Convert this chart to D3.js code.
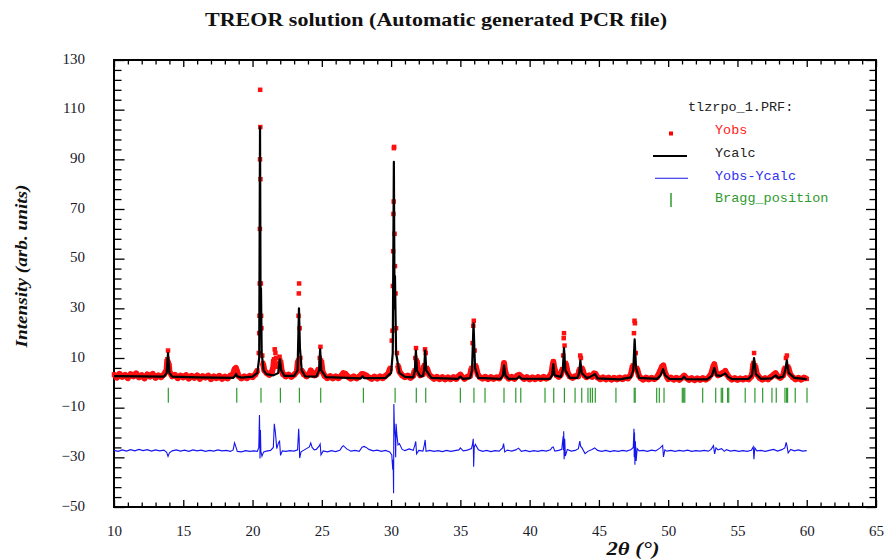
<!DOCTYPE html>
<html>
<head>
<meta charset="utf-8">
<script src="https://cdn.jsdelivr.net/npm/d3@7"></script>
<style>
  body { margin: 0; background: #fff; }
  svg { display: block; }
</style>
</head>
<body>
<svg id="chart" width="884" height="559"></svg>
<script>
// observed profile, [2theta, intensity]
const yobs = [
  [10.0,3.4],[10.2,2.1],[10.4,3.6],[10.6,2.4],[10.8,3.2],[11.0,1.9],[11.2,3.5],[11.4,2.6],[11.6,3.8],[11.8,2.2],
  [12.0,3.1],[12.2,1.8],[12.4,3.4],[12.6,2.5],[12.8,3.6],[13.0,2.0],[13.2,3.0],[13.4,2.3],[13.6,3.3],[13.8,5.2],
  [13.85,9.5],[13.9,13.0],[13.95,8.0],[14.0,4.6],[14.2,2.6],[14.4,3.2],[14.6,1.9],[14.8,2.9],[15.0,2.2],[15.2,3.1],
  [15.4,1.7],[15.6,2.8],[15.8,2.0],[16.0,3.0],[16.2,1.6],[16.4,2.7],[16.6,2.1],[16.8,2.9],[17.0,1.5],[17.2,2.6],
  [17.4,1.9],[17.6,2.8],[17.8,1.6],[18.0,2.5],[18.2,1.8],[18.4,2.9],[18.6,3.5],[18.7,5.5],[18.8,6.0],[18.9,4.4],
  [19.0,2.7],[19.2,1.8],[19.4,2.6],[19.6,1.9],[19.8,2.8],[20.0,2.3],[20.2,3.4],[20.35,5.0],[20.45,12],[20.48,20],
  [20.5,27],[20.52,40],[20.53,62],[20.54,90],[20.55,118],[20.56,103],[20.57,82],[20.6,40],[20.62,27],[20.64,22],
  [20.7,11],[20.75,8],[20.85,5],[21.0,4.0],[21.2,3.2],[21.4,4.4],[21.5,6.5],[21.55,9.5],[21.6,13.5],[21.65,12],
  [21.7,10],[21.8,6.5],[21.9,8.0],[21.95,10.5],[22.0,9.0],[22.1,5],[22.2,3.5],[22.4,2.6],[22.6,3.3],[22.8,2.4],
  [23.0,3.2],[23.2,4.5],[23.28,9],[23.32,27],[23.34,36],[23.36,40],[23.4,22],[23.45,10],[23.55,5],[23.7,3.4],
  [23.9,2.6],[24.1,3.8],[24.2,5.0],[24.3,4.2],[24.45,3.0],[24.6,3.3],[24.75,5.5],[24.85,10],[24.9,14.5],[24.95,9],
  [25.05,4.5],[25.2,2.8],[25.4,1.9],[25.6,2.7],[25.8,1.8],[26.0,2.6],[26.2,1.9],[26.4,2.8],[26.55,3.9],[26.7,3.6],
  [26.9,2.4],[27.1,1.7],[27.3,2.6],[27.5,1.8],[27.7,2.5],[27.9,3.6],[28.05,3.4],[28.2,3.0],[28.4,2.2],[28.6,1.6],
  [28.8,2.5],[29.0,1.7],[29.2,2.6],[29.4,1.9],[29.6,2.8],[29.8,3.8],[29.95,6],[30.05,17],[30.1,21],[30.13,39],
  [30.15,53],[30.17,68],[30.19,73],[30.2,94.5],[30.22,95],[30.25,60],[30.28,47],[30.32,36],[30.36,22],[30.42,12],
  [30.5,7],[30.6,4.5],[30.8,3.0],[31.0,2.3],[31.2,2.9],[31.4,2.0],[31.6,2.9],[31.7,5],[31.75,10],[31.8,14],
  [31.85,9],[31.95,4.5],[32.1,3.0],[32.3,3.5],[32.38,7],[32.45,13.5],[32.5,12],[32.58,6],[32.75,3.2],[32.9,2.5],
  [33.1,1.6],[33.3,2.4],[33.5,1.5],[33.7,2.3],[33.9,1.4],[34.1,2.2],[34.3,1.5],[34.5,2.3],[34.7,1.6],[34.9,2.8],
  [35.0,3.3],[35.1,2.6],[35.3,1.6],[35.5,2.4],[35.7,2.8],[35.8,6],[35.88,16],[35.93,23],[35.97,25],[36.03,13],
  [36.1,7],[36.25,3.4],[36.4,2.3],[36.6,1.7],[36.8,2.4],[37.0,1.5],[37.2,2.3],[37.4,1.6],[37.6,2.2],[37.8,1.8],
  [38.0,3.3],[38.1,6],[38.15,8],[38.22,5],[38.35,2.6],[38.5,1.7],[38.7,2.4],[38.9,1.6],[39.1,2.9],[39.25,3.2],
  [39.4,2.5],[39.6,1.6],[39.8,2.3],[40.0,1.4],[40.2,2.2],[40.4,1.5],[40.6,2.3],[40.8,1.6],[41.0,2.4],[41.2,1.7],
  [41.4,2.3],[41.58,4.0],[41.66,7],[41.71,8.5],[41.78,6],[41.95,3.0],[42.1,2.4],[42.25,3.2],[42.35,5.5],[42.42,11],
  [42.46,18],[42.48,20],[42.52,15],[42.6,8],[42.75,4],[42.9,2.6],[43.1,2.0],[43.3,2.7],[43.5,2.6],[43.6,5.5],
  [43.65,11],[43.7,10],[43.78,6],[43.95,3.0],[44.1,2.3],[44.3,3.0],[44.5,2.4],[44.65,3.8],[44.75,3.6],[44.9,2.2],
  [45.1,1.5],[45.3,2.2],[45.5,1.4],[45.7,2.1],[45.9,1.3],[46.1,2.0],[46.3,1.4],[46.5,2.1],[46.7,1.5],[46.9,2.2],
  [47.1,1.8],[47.3,3.2],[47.45,7],[47.53,20],[47.57,25],[47.6,24],[47.66,12],[47.74,6],[47.88,3.0],[48.0,2.0],
  [48.2,1.3],[48.4,2.1],[48.6,1.4],[48.8,2.0],[49.0,1.5],[49.2,2.3],[49.4,4.5],[49.55,6.5],[49.65,7],[49.75,4.5],
  [49.9,2.5],[50.0,1.5],[50.2,2.1],[50.4,1.3],[50.6,2.0],[50.8,1.2],[51.0,2.1],[51.15,2.9],[51.3,2.0],[51.5,1.2],
  [51.7,1.9],[51.9,1.1],[52.1,1.8],[52.3,1.2],[52.5,1.9],[52.7,1.3],[52.9,2.0],[53.1,3.5],[53.25,6.5],[53.33,7.5],
  [53.45,4.0],[53.6,3.0],[53.8,3.6],[54.0,4.2],[54.12,4.8],[54.25,3.3],[54.4,2.2],[54.6,1.3],[54.8,1.9],[55.0,1.2],
  [55.2,1.8],[55.4,1.3],[55.6,1.9],[55.8,1.4],[56.0,2.6],[56.08,4.5],[56.15,8],[56.2,12],[56.28,7],[56.4,3.5],
  [56.6,2.0],[56.8,1.3],[57.0,1.9],[57.2,1.4],[57.4,2.3],[57.6,3.2],[57.75,3.9],[57.9,2.6],[58.1,2.0],[58.3,3.0],
  [58.42,6],[58.5,10],[58.57,11],[58.66,6.5],[58.8,3.5],[59.0,2.2],[59.2,1.4],[59.4,2.0],[59.6,1.3],[59.8,2.1],
  [60.0,1.6]
];

// calculated profile
const ycalc = [
  [10.0,2.7],[12.0,2.6],[13.6,2.5],[13.8,4.0],[13.9,12.0],[14.0,4.0],[14.2,2.5],[16.0,2.2],[18.6,2.0],[18.72,2.6],
  [18.81,3.6],[18.9,2.6],[19.2,2.1],[20.0,2.5],[20.35,4.0],[20.48,10],[20.54,103],[20.58,30],[20.61,38],[20.66,12],
  [20.8,5],[21.0,3.5],[21.5,3.0],[21.85,4.0],[21.97,9.5],[22.07,5],[22.3,2.8],[23.0,2.8],[23.25,5],[23.35,30],
  [23.42,14],[23.55,5],[23.8,2.6],[24.6,2.5],[24.8,5],[24.88,13.5],[24.96,5],[25.3,2.3],[27.8,1.8],[27.95,2.6],
  [28.05,1.9],[29.6,2.0],[30.0,4],[30.12,12],[30.2,89],[30.25,30],[30.28,43],[30.36,12],[30.6,4],[31.0,2.4],
  [31.6,2.2],[31.72,5],[31.79,13],[31.87,5],[32.1,2.6],[32.3,2.8],[32.38,5],[32.46,13],[32.54,5],[32.9,2.0],
  [34.8,1.6],[35.0,2.5],[35.2,1.6],[35.7,1.9],[35.84,5],[35.95,24],[36.06,6],[36.3,2.0],[37.9,1.6],[38.07,3],
  [38.15,7],[38.25,3],[38.5,1.6],[39.1,1.7],[39.25,2.6],[39.4,1.7],[41.45,1.6],[41.62,3],[41.71,7.5],[41.8,3],
  [42.25,2.4],[42.39,5],[42.48,14],[42.58,5],[42.9,2.0],[43.45,2.0],[43.58,4],[43.66,9],[43.76,4],[44.1,2.0],
  [44.3,2.2],[44.72,3.5],[44.9,1.8],[46.5,1.4],[47.3,2.2],[47.48,5],[47.58,17.5],[47.68,6],[47.9,2.0],[49.2,1.6],
  [49.45,3],[49.63,5.5],[49.78,3],[50.1,1.6],[51.0,1.5],[51.14,2.5],[51.3,1.5],[52.8,1.4],[53.15,2.8],[53.33,6],
  [53.48,3],[53.8,2.8],[54.12,3.8],[54.3,2.5],[54.6,1.5],[55.8,1.6],[56.05,3],[56.2,10],[56.33,3.5],[56.7,1.6],
  [57.45,1.8],[57.76,3],[57.95,2],[58.3,2.5],[58.45,5],[58.56,9],[58.7,4],[59.1,2],[60.0,1.5]
];

// difference curve (shifted)
const ydiff = [
  [10.0,-27.2],[10.3,-27.6],[10.6,-27.0],[10.9,-27.5],[11.2,-26.9],[11.5,-27.4],[11.8,-26.8],[12.1,-27.3],[12.4,-26.9],[12.7,-27.5],
  [13.0,-27.0],[13.3,-27.4],[13.6,-27.1],[13.8,-28.0],[13.9,-29.6],[14.0,-28.2],[14.2,-27.4],[14.5,-27.0],[14.8,-27.5],[15.1,-27.1],
  [15.4,-27.6],[15.7,-27.0],[16.0,-27.4],[16.3,-27.1],[16.6,-27.6],[16.9,-27.2],[17.2,-27.5],[17.5,-27.0],[17.8,-27.4],[18.1,-27.2],
  [18.4,-27.6],[18.6,-27.0],[18.7,-24.2],[18.8,-25.8],[18.9,-27.6],[19.2,-27.8],[19.5,-27.3],[19.8,-27.6],[20.1,-27.4],[20.35,-27.6],
  [20.45,-26.0],[20.5,-13.0],[20.52,-20],[20.54,-30.5],[20.57,-19],[20.6,-27.5],[20.68,-29.5],[20.8,-27.8],[21.0,-27.5],[21.3,-27.2],
  [21.5,-26.0],[21.57,-16.5],[21.65,-20],[21.75,-26.5],[21.88,-24],[21.95,-23.5],[22.02,-29.2],[22.15,-27.4],[22.4,-27.6],[22.7,-27.3],
  [23.0,-27.5],[23.25,-27.0],[23.33,-18.5],[23.36,-22],[23.4,-30.3],[23.5,-27.8],[23.8,-26.8],[24.1,-25.8],[24.2,-24.2],[24.3,-26.0],
  [24.45,-27.0],[24.6,-26.8],[24.8,-25.5],[24.88,-24.6],[24.94,-29.0],[25.1,-27.4],[25.4,-27.8],[25.7,-27.3],[26.0,-27.7],[26.3,-27.2],
  [26.45,-25.9],[26.55,-25.3],[26.8,-26.6],[27.1,-27.5],[27.4,-27.2],[27.7,-27.6],[27.9,-25.9],[28.05,-25.6],[28.2,-26.0],[28.4,-26.8],
  [28.7,-27.4],[29.0,-27.1],[29.3,-27.6],[29.6,-27.2],[29.9,-27.8],[30.05,-29.0],[30.12,-35],[30.15,-31],[30.18,-44.5],[30.2,-8.5],
  [30.23,-16],[30.26,-19],[30.3,-22],[30.33,-30],[30.36,-16.5],[30.42,-21],[30.5,-25],[30.6,-24.5],[30.8,-26.8],[31.0,-27.3],
  [31.3,-26.6],[31.6,-27.2],[31.72,-25.0],[31.78,-23.6],[31.84,-28.6],[32.0,-27.2],[32.3,-27.5],[32.4,-25],[32.46,-23],[32.52,-27.6],
  [32.8,-27.2],[33.1,-27.6],[33.4,-27.3],[33.7,-27.7],[34.0,-27.2],[34.3,-27.6],[34.6,-27.3],[34.9,-27.0],[35.0,-26.2],[35.2,-27.4],
  [35.5,-27.1],[35.8,-26.5],[35.88,-24.6],[35.93,-22.5],[35.96,-33.8],[36.0,-26],[36.08,-24.8],[36.3,-27.0],[36.6,-27.6],[36.9,-27.2],
  [37.2,-27.7],[37.5,-27.3],[37.8,-27.5],[38.05,-26.2],[38.12,-24.5],[38.2,-27.8],[38.4,-27.1],[38.7,-27.5],[39.0,-27.0],[39.2,-26.3],
  [39.4,-27.6],[39.7,-27.2],[40.0,-27.7],[40.3,-27.3],[40.6,-27.6],[40.9,-27.2],[41.2,-27.5],[41.5,-27.0],[41.62,-26.0],[41.7,-25.8],
  [41.82,-27.5],[42.1,-27.2],[42.32,-26.8],[42.42,-21.5],[42.44,-27],[42.46,-19.5],[42.49,-30.8],[42.53,-22.5],[42.58,-29.5],[42.72,-26.8],
  [43.0,-27.5],[43.3,-27.2],[43.52,-26.5],[43.62,-23.5],[43.68,-25.5],[43.78,-26.2],[44.0,-28.5],[44.2,-27.6],[44.5,-26.8],[44.7,-26.2],
  [44.9,-27.2],[45.2,-27.6],[45.5,-27.2],[45.8,-27.7],[46.1,-27.3],[46.4,-27.6],[46.7,-27.2],[47.0,-27.5],[47.3,-27.0],[47.48,-26.0],
  [47.53,-18.5],[47.55,-30],[47.57,-20],[47.6,-33],[47.63,-23.5],[47.69,-31.5],[47.76,-26.5],[47.9,-27.4],[48.2,-27.2],[48.5,-27.6],
  [48.8,-27.1],[49.1,-27.4],[49.4,-26.3],[49.6,-25.2],[49.66,-29.8],[49.76,-27.0],[49.9,-27.5],[50.2,-27.2],[50.5,-27.6],[50.8,-27.2],
  [51.1,-27.5],[51.4,-27.1],[51.7,-27.6],[52.0,-27.3],[52.3,-27.5],[52.6,-27.2],[52.9,-27.5],[53.1,-26.8],[53.27,-25.3],[53.35,-28.6],
  [53.45,-26.2],[53.6,-27.0],[53.85,-26.5],[54.05,-27.6],[54.2,-26.9],[54.5,-27.5],[54.8,-27.2],[55.1,-27.6],[55.4,-27.3],[55.7,-27.6],
  [56.0,-27.2],[56.14,-25.8],[56.19,-30.8],[56.25,-26.2],[56.4,-27.4],[56.7,-27.2],[57.0,-27.6],[57.3,-27.2],[57.6,-26.8],[57.9,-27.5],
  [58.2,-26.9],[58.42,-26.2],[58.52,-24.0],[58.58,-25.5],[58.66,-28.2],[58.85,-26.8],[59.1,-27.4],[59.4,-27.0],[59.7,-27.5],[60.0,-27.3]
];

// reflection positions
const bragg = [
  13.92, 18.86, 20.61, 22.01, 23.38, 24.92, 28.0, 30.29, 31.82, 32.5, 35.0, 35.98, 36.78, 38.15, 39.0, 39.36,
  41.11, 41.74, 42.51, 43.28, 43.76, 44.21, 44.38, 44.53, 44.74, 46.23, 47.55, 47.62, 49.17, 49.36, 49.7,
  51.02, 51.12, 51.2, 52.49, 53.43, 53.83, 53.93, 54.29, 54.37, 55.56, 56.26, 56.82, 57.49, 57.8, 58.43,
  58.55, 58.62, 59.17, 60.02
];
const braggRange = [-2, -8];

const xMajor = [10, 15, 20, 25, 30, 35, 40, 45, 50, 55, 60, 65];
const yMajor = [-50, -30, -10, 10, 30, 50, 70, 90, 110, 130];
const legendItems = ["Yobs", "Ycalc", "Yobs-Ycalc", "Bragg_position"];

const margin = {top: 60, right: 8, bottom: 52, left: 114};
const width = 884 - margin.left - margin.right,
  height = 559 - margin.top - margin.bottom;

const svg = d3.select("#chart");
const g = svg.append("g").attr("transform", "translate(" + margin.left + "," + margin.top + ")");

const x = d3.scaleLinear().domain([10, 65]).range([0, width]);
const y = d3.scaleLinear().domain([-50, 130]).range([height, 0]);

const xMinor = d3.range(10, 66, 1).filter(d => d % 5 !== 0);
const yMinor = d3.range(-50, 131, 4).filter(d => (d + 50) % 20 !== 0);

const serif = "'Liberation Serif', 'Times New Roman', serif";
const mono = "'Liberation Mono', 'Courier New', monospace";

function styleAxis(sel) {
  sel.select(".domain").remove();
  sel.selectAll("line").attr("stroke", "#000").attr("stroke-width", 1.3);
  sel.selectAll("text").attr("font-family", serif).attr("font-size", 15).attr("fill", "#1a1a2a");
}

// bottom
g.append("g").attr("transform", "translate(0," + height + ")")
  .call(d3.axisBottom(x).tickValues(xMinor).tickSize(-4.5).tickFormat(""))
  .call(styleAxis);
g.append("g").attr("transform", "translate(0," + height + ")")
  .call(d3.axisBottom(x).tickValues(xMajor).tickSize(-7).tickPadding(18).tickFormat(d3.format("d")))
  .call(styleAxis);
// top
g.append("g")
  .call(d3.axisTop(x).tickValues(xMinor).tickSize(-4.5).tickFormat(""))
  .call(styleAxis);
g.append("g")
  .call(d3.axisTop(x).tickValues(xMajor).tickSize(-7).tickFormat(""))
  .call(styleAxis);
// left
g.append("g")
  .call(d3.axisLeft(y).tickValues(yMinor).tickSize(-7.5).tickFormat(""))
  .call(styleAxis);
g.append("g")
  .call(d3.axisLeft(y).tickValues(yMajor).tickSize(-10.5).tickPadding(29).tickFormat(d3.format("d")))
  .call(styleAxis)
  .selectAll("text").attr("dy", "0.22em");
// right
g.append("g").attr("transform", "translate(" + width + ",0)")
  .call(d3.axisRight(y).tickValues(yMinor).tickSize(-6.5).tickFormat(""))
  .call(styleAxis);
g.append("g").attr("transform", "translate(" + width + ",0)")
  .call(d3.axisRight(y).tickValues(yMajor).tickSize(-10).tickFormat(""))
  .call(styleAxis);

// frame
g.append("rect")
  .attr("width", width).attr("height", height)
  .attr("fill", "none").attr("stroke", "#000").attr("stroke-width", 2);

// observed points: dense band near background, single dots on the peaks
const band = d3.line()
  .defined(d => d[1] < 10)
  .x(d => x(d[0])).y(d => y(d[1]));
g.append("path")
  .datum(yobs)
  .attr("fill", "none")
  .attr("stroke", "#ff1010")
  .attr("stroke-width", 6)
  .attr("stroke-linejoin", "round")
  .attr("d", band);

const ms = 4.5;
g.append("g").selectAll("rect")
  .data(yobs)
  .join("rect")
  .attr("x", d => x(d[0]) - ms / 2)
  .attr("y", d => y(d[1]) - ms / 2)
  .attr("width", ms).attr("height", ms)
  .attr("fill", "#ff1010");

// calculated
const line = d3.line().x(d => x(d[0])).y(d => y(d[1]));
g.append("path")
  .datum(ycalc)
  .attr("fill", "none")
  .attr("stroke", "#000")
  .attr("stroke-width", 2.2)
  .attr("stroke-linejoin", "round")
  .attr("d", line);

// difference
g.append("path")
  .datum(ydiff)
  .attr("fill", "none")
  .attr("stroke", "#1515ee")
  .attr("stroke-width", 1.1)
  .attr("d", line);

// bragg ticks
g.append("g").selectAll("line")
  .data(bragg)
  .join("line")
  .attr("x1", d => x(d)).attr("x2", d => x(d))
  .attr("y1", y(braggRange[0])).attr("y2", y(braggRange[1]))
  .attr("stroke", "#2e9a2e").attr("stroke-width", 1.2);

// legend
const lg = svg.append("g").attr("font-family", mono).attr("font-size", 13.5);
lg.append("text").attr("x", 688).attr("y", 111).attr("fill", "#222").text("tlzrpo_1.PRF:");
const legColors = ["#ff2020", "#222", "#3030ee", "#2e9a2e"];
const legY = [134, 157, 179.5, 202];
lg.selectAll("text.item")
  .data(legendItems)
  .join("text")
  .attr("class", "item")
  .attr("x", 715)
  .attr("y", (d, i) => legY[i])
  .attr("fill", (d, i) => legColors[i])
  .text(d => d);
lg.append("rect").attr("x", 669).attr("y", 131.5).attr("width", 4).attr("height", 4).attr("fill", "#ff0000");
lg.append("line").attr("x1", 653).attr("x2", 687).attr("y1", 156).attr("y2", 156)
  .attr("stroke", "#000").attr("stroke-width", 2);
lg.append("line").attr("x1", 655).attr("x2", 688).attr("y1", 178.3).attr("y2", 178.3)
  .attr("stroke", "#1515ee").attr("stroke-width", 1.1);
lg.append("line").attr("x1", 671).attr("x2", 671).attr("y1", 193).attr("y2", 207)
  .attr("stroke", "#2e9a2e").attr("stroke-width", 1.5);

// titles
svg.append("text")
  .attr("x", 436).attr("y", 26)
  .attr("text-anchor", "middle")
  .attr("font-family", serif).attr("font-weight", "bold").attr("font-size", 19)
  .attr("textLength", 462).attr("lengthAdjust", "spacingAndGlyphs")
  .attr("fill", "#111")
  .text("TREOR solution (Automatic generated PCR file)");

svg.append("text")
  .attr("transform", "translate(27,266) rotate(-90)")
  .attr("text-anchor", "middle")
  .attr("font-family", serif).attr("font-weight", "bold").attr("font-style", "italic").attr("font-size", 17)
  .attr("textLength", 163).attr("lengthAdjust", "spacingAndGlyphs")
  .attr("fill", "#111")
  .text("Intensity (arb. units)");

svg.append("text")
  .attr("x", 633).attr("y", 555)
  .attr("text-anchor", "middle")
  .attr("font-family", serif).attr("font-weight", "bold").attr("font-style", "italic").attr("font-size", 19)
  .attr("textLength", 53).attr("lengthAdjust", "spacingAndGlyphs")
  .attr("fill", "#111")
  .text("2θ (°)");
</script>
</body>
</html>
